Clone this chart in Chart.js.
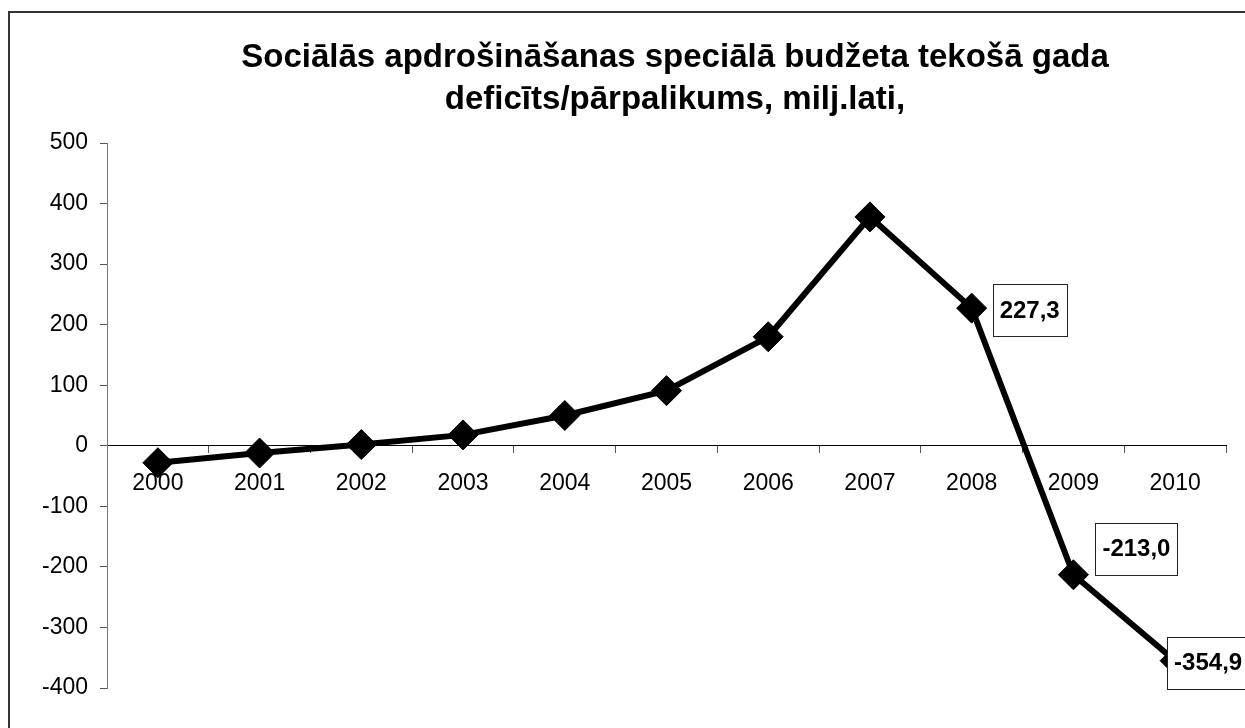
<!DOCTYPE html>
<html lang="lv">
<head>
    <meta charset="UTF-8">
    <title>Sociālās apdrošināšanas speciālā budžeta deficīts/pārpalikums</title>
    <script src="https://cdn.jsdelivr.net/npm/chart.js"></script>
    <style>
        html, body { margin: 0; padding: 0; background: #fff; }
        #wrap { width: 1245px; height: 728px; }
    </style>
</head>
<body>
<div id="wrap">
    <canvas id="budgetChart" width="1245" height="728"></canvas>
</div>

<script>
    // Data
    const years = ['2000', '2001', '2002', '2003', '2004', '2005', '2006', '2007', '2008', '2009', '2010'];
    const balance = [-28, -12, 2, 18, 50, 91, 180, 378, 227.3, -213.0, -354.9];
    // only the last three points have a value label
    const labelledYears = ['2008', '2009', '2010'];
    const titleLines = ['Sociālās apdrošināšanas speciālā budžeta tekošā gada', 'deficīts/pārpalikums, milj.lati,'];

    const FONT = '"Liberation Sans", Arial, sans-serif';

    // frame + title, drawn like the Excel chart area
    const framePlugin = {
        id: 'frame',
        beforeDraw(chart) {
            const ctx = chart.ctx;
            ctx.save();
            ctx.fillStyle = '#fff';
            ctx.fillRect(0, 0, chart.width, chart.height);
            ctx.strokeStyle = '#333';
            ctx.lineWidth = 2;
            ctx.strokeRect(9, 12, chart.width + 20, chart.height + 20);
            ctx.fillStyle = '#000';
            ctx.font = 'bold 33px ' + FONT;
            ctx.textAlign = 'center';
            ctx.textBaseline = 'middle';
            ctx.fillText(titleLines[0], 675, 58);
            ctx.fillText(titleLines[1], 675, 100);
            ctx.restore();
        }
    };

    // boxed value labels next to 2008-2010
    const boxLabels = {
        id: 'boxLabels',
        afterDatasetsDraw(chart, args, opts) {
            const ctx = chart.ctx;
            const meta = chart.getDatasetMeta(0);
            ctx.save();
            ctx.font = 'bold 24px ' + FONT;
            ctx.textAlign = 'center';
            ctx.textBaseline = 'middle';
            labelledYears.forEach((yr, i) => {
                const idx = years.indexOf(yr);
                const pt = meta.data[idx];
                const text = balance[idx].toFixed(1).replace('.', ',');
                const cx = pt.x + opts.offsets[i][0];
                const cy = pt.y + opts.offsets[i][1];
                const w = ctx.measureText(text).width + 14;
                const h = 52;
                ctx.fillStyle = '#fff';
                ctx.fillRect(cx - w / 2, cy - h / 2, w, h);
                ctx.strokeStyle = '#222';
                ctx.lineWidth = 1;
                ctx.strokeRect(Math.round(cx - w / 2) + 0.5, Math.round(cy - h / 2) + 0.5, Math.round(w), h);
                ctx.fillStyle = '#000';
                ctx.fillText(text, cx, cy + 1);
            });
            ctx.restore();
        }
    };

    const ctx = document.getElementById('budgetChart').getContext('2d');
    const budgetChart = new Chart(ctx, {
        type: 'line',
        data: {
            labels: years,
            datasets: [{
                data: balance,
                borderColor: '#000',
                borderWidth: 6,
                backgroundColor: '#000',
                pointStyle: 'rectRot',
                pointRadius: 15,
                pointBorderWidth: 1,
                pointBackgroundColor: '#000',
                pointBorderColor: '#000',
                tension: 0,
                clip: false
            }]
        },
        options: {
            responsive: false,
            animation: false,
            layout: { padding: { top: 143, bottom: 40, left: 0, right: 19 } },
            plugins: {
                legend: { display: false },
                title: { display: false },
                tooltip: { enabled: false },
                boxLabels: { offsets: [[58, 2], [63, -26], [33, 2]] }
            },
            scales: {
                x: {
                    type: 'category',
                    position: { y: 0 },
                    offset: true,
                    grid: {
                        offset: true,
                        drawOnChartArea: false,
                        drawTicks: true,
                        tickLength: 7,
                        color: '#555',
                        tickColor: '#555'
                    },
                    border: { color: '#000', width: 1 },
                    ticks: {
                        color: '#000',
                        font: { family: FONT, size: 23 },
                        padding: 17,
                        maxRotation: 0,
                        autoSkip: false
                    }
                },
                y: {
                    min: -400,
                    max: 500,
                    afterFit(scale) { scale.width = 107; },
                    grid: {
                        drawOnChartArea: false,
                        drawTicks: true,
                        tickLength: 7,
                        tickColor: '#555'
                    },
                    border: { color: '#777', width: 1 },
                    ticks: {
                        stepSize: 100,
                        color: '#000',
                        font: { family: FONT, size: 23 },
                        padding: 12
                    }
                }
            }
        },
        plugins: [framePlugin, boxLabels]
    });
</script>
</body>
</html>
